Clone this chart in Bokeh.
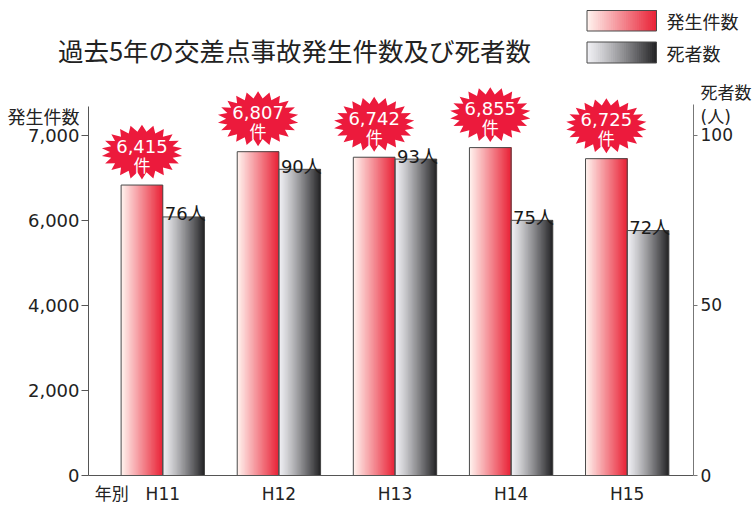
import numpy as np
from bokeh.plotting import figure
from bokeh.layouts import column
from bokeh.models import ColumnDataSource, Range1d, LinearAxis, FixedTicker
from bokeh.core.properties import value
from bokeh.embed import file_html
from bokeh.resources import INLINE

# ---------------- data ----------------
years = ["H11", "H12", "H13", "H14", "H15"]
cases = [6415, 6807, 6742, 6855, 6725]          # 発生件数
deaths = [76, 90, 93, 75, 72]                    # 死者数
case_ticks = [0, 2000, 4000, 6000, 7000]
case_tick_labels = ["0", "2,000", "4,000", "6,000", "7,000"]
death_ticks = [0, 50, 100]
title_text = "過去5年の交差点事故発生件数及び死者数"
legend_labels = ["発生件数", "死者数"]

# left axis is a broken scale: 0-6000 compressed, 6000-7000 expanded
def case_to_y(c):
    if c <= 6000:
        return c * 75.0 / 6000.0
    return 75.0 + (c - 6000) * 25.0 / 1000.0

# ---------------- style helpers ----------------
PX_X = 116.1      # px per category unit
PX_Y = 3.41       # px per y unit
BW = 0.359        # bar width (units)
N_STRIP = 32
JP = "Noto Sans CJK JP"
NUM = "DejaVu Sans, Noto Sans CJK JP"
TXT = "#222222"
AX_COL = "#555555"

def lerp_color(c0, c1, t):
    r = [int(round(a + (b - a) * t)) for a, b in zip(c0, c1)]
    return "#%02x%02x%02x" % tuple(r)

RED0, RED1 = (255, 241, 237), (233, 36, 56)
GRY0, GRY1 = (238, 238, 242), (38, 38, 40)

def grad_quads(boxes):
    """boxes: list of (x0, x1, top, bottom, c0, c1, gamma) -> column data of strips"""
    L, R, T, B, C = [], [], [], [], []
    for x0, x1, top, bottom, c0, c1, g in boxes:
        for k in range(N_STRIP):
            t = k / (N_STRIP - 1)
            L.append(x0 + (x1 - x0) * k / N_STRIP)
            R.append(x1)
            T.append(top)
            B.append(bottom)
            C.append(lerp_color(c0, c1, t ** g))
    return dict(left=L, right=R, top=T, bottom=B, color=C)

# ================= header figure (title + legend) =================
hdr = figure(width=756, height=80, x_range=Range1d(0, 756), y_range=Range1d(80, 0),
             output_backend="svg", toolbar_location=None,
             x_axis_location=None, y_axis_location=None,
             min_border_left=0, min_border_right=0, min_border_top=0, min_border_bottom=0)
hdr.outline_line_color = None
hdr.xgrid.visible = False
hdr.ygrid.visible = False

hdr.text(x=[294], y=[49], text=[title_text], text_color=TXT,
         text_font=value(JP), text_font_size="25.5px",
         text_align="center", text_baseline="middle")
sw = [(586.5, 656, 30.5, 10, RED0, RED1, 1.0),
      (586.5, 656, 62.5, 41.5, GRY0, GRY1, 1.15)]
hdr.quad(left="left", right="right", top="top", bottom="bottom",
         fill_color="color", line_color=None, source=ColumnDataSource(grad_quads(sw)))
hdr.quad(left=[s[0] for s in sw], right=[s[1] for s in sw],
         top=[s[2] for s in sw], bottom=[s[3] for s in sw],
         fill_color=None, line_color="#4a4a4a", line_width=1)
hdr.text(x=[666, 666], y=[20.5, 52], text=legend_labels, text_color=TXT,
         text_font=value(JP), text_font_size="18px",
         text_align="left", text_baseline="middle")

# ================= main chart =================
p = figure(width=756, height=426,
           x_range=Range1d(-0.64, 4.571), y_range=Range1d(0, 116.1),
           output_backend="svg", toolbar_location=None,
           min_border_left=88, min_border_right=63,
           min_border_top=0, min_border_bottom=30)
p.outline_line_color = None
p.xgrid.visible = False
p.ygrid.visible = False

# keep the header's frame independent of the chart's frame
for fig in (hdr, p):
    try:
        fig.frame_align = False
    except Exception:
        pass

boxes = []
ol_l, ol_r, ol_t = [], [], []
for i in range(len(years)):
    ct = case_to_y(cases[i])
    boxes.append((i - BW, i, ct, 0, RED0, RED1, 1.0))
    boxes.append((i, i + BW, deaths[i], 0, GRY0, GRY1, 1.15))
    ol_l += [i - BW, i]
    ol_r += [i, i + BW]
    ol_t += [ct, deaths[i]]
p.quad(left="left", right="right", top="top", bottom="bottom",
       fill_color="color", line_color=None, source=ColumnDataSource(grad_quads(boxes)))
p.quad(left=ol_l, right=ol_r, top=ol_t, bottom=0,
       fill_color=None, line_color="#4a4a4a", line_width=1)

# starbursts over case bars
n_sp = 22
ang = np.linspace(0, 2 * np.pi, 2 * n_sp, endpoint=False) + np.pi / 2
rad_x = np.where(np.arange(2 * n_sp) % 2 == 0, 40.5, 32.0) / PX_X
rad_y = np.where(np.arange(2 * n_sp) % 2 == 0, 27.5, 20.5) / PX_Y
bx, by, bxs, bys = [], [], [], []
for i in range(len(years)):
    cx = i - BW / 2
    cy = case_to_y(cases[i]) + 33.0 / PX_Y
    bx.append(cx)
    by.append(cy)
    bxs.append(list(cx + rad_x * np.cos(ang)))
    bys.append(list(cy + rad_y * np.sin(ang)))
p.patches(xs=bxs, ys=bys, fill_color="#ec1a3c", line_color=None)
p.text(x=bx, y=by, text=[f"{c:,}" for c in cases], text_color="white",
       text_font=value(NUM), text_font_size="18px", text_align="center",
       text_baseline="middle", y_offset=-6)
p.text(x=bx, y=by, text=["件"] * len(years), text_color="white",
       text_font=value(JP), text_font_size="17px", text_align="center",
       text_baseline="middle", y_offset=12)

# death labels
p.text(x=list(range(len(years))), y=deaths, text=[f"{d}人" for d in deaths],
       text_color="#1a1a1a", text_font=value(NUM), text_font_size="18px",
       text_align="left", text_baseline="alphabetic", x_offset=2, y_offset=-3)

# ---------------- axes ----------------
left_top = 108.5
right_top = 109.0
cap_left_y = 105.3     # position of the "発生件数" caption on the left axis
cap_right_y = 108.9    # position of the "死者数 (人)" caption on the right axis

ly = p.yaxis[0]
l_ticks = [case_to_y(v) for v in case_ticks]
ly.ticker = FixedTicker(ticks=l_ticks + [cap_left_y], minor_ticks=l_ticks)
ov = {int(round(case_to_y(v))): s for v, s in zip(case_ticks, case_tick_labels)}
ov[cap_left_y] = legend_labels[0]
ly.major_label_overrides = ov
ly.bounds = (0, left_top)
ly.major_tick_out = 7
ly.major_tick_in = 0
ly.major_tick_line_color = None
ly.minor_tick_out = 7
ly.minor_tick_in = 0
ly.minor_tick_line_color = AX_COL
ly.major_label_standoff = 2
ly.axis_line_color = AX_COL
ly.major_label_text_font = NUM
ly.major_label_text_font_size = "18px"
ly.major_label_text_color = TXT

ry = LinearAxis(ticker=FixedTicker(ticks=death_ticks + [cap_right_y], minor_ticks=death_ticks),
                bounds=(0, right_top))
ry.major_label_overrides = {cap_right_y: "死者数\n(人)"}
ry.major_tick_out = 4
ry.major_tick_in = 0
ry.major_tick_line_color = None
ry.minor_tick_out = 4
ry.minor_tick_in = 0
ry.minor_tick_line_color = "#777777"
ry.major_label_standoff = 3
ry.axis_line_color = "#777777"
ry.major_label_text_font = NUM
ry.major_label_text_font_size = "17px"
ry.major_label_text_color = TXT
p.add_layout(ry, "right")

# bottom axis: year ticks plus the "年別" caption
nen_x = -0.44
bax = p.xaxis[0]
bax.ticker = FixedTicker(ticks=[nen_x] + list(range(len(years))))
xov = {i: y for i, y in enumerate(years)}
xov[nen_x] = "年別"
bax.major_label_overrides = xov
bax.major_tick_out = 0
bax.major_tick_in = 0
bax.minor_tick_out = 0
bax.minor_tick_in = 0
bax.major_label_standoff = 8
bax.axis_line_color = AX_COL
bax.major_label_text_font = NUM
bax.major_label_text_font_size = "17px"
bax.major_label_text_color = TXT

layout = column(hdr, p, spacing=0)
open("out.html", "w").write(file_html(layout, INLINE))
